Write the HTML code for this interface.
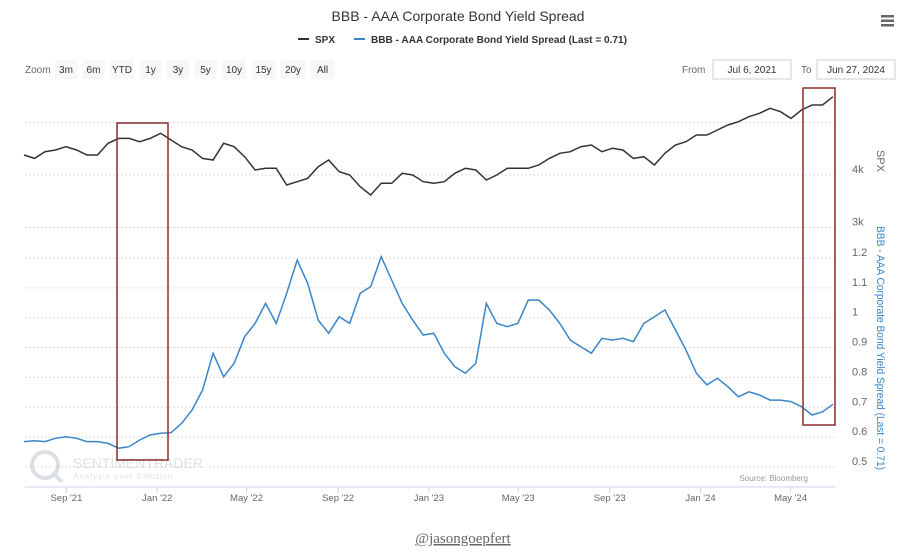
<!DOCTYPE html>
<html><head><meta charset="utf-8"><style>
body{margin:0;background:#fff;width:916px;height:555px;overflow:hidden;font-family:"Liberation Sans",sans-serif;}
svg{display:block}
</style></head><body>
<svg id="chart" width="916" height="555" font-family="Liberation Sans, sans-serif">
<text x="458" y="21" text-anchor="middle" font-size="14" fill="#333">BBB - AAA Corporate Bond Yield Spread</text>
<g fill="#666"><rect x="881" y="15" width="13" height="2.5"/><rect x="881" y="19.5" width="13" height="2.5"/><rect x="881" y="24" width="13" height="2.5"/></g>
<g><line x1="298" y1="39" x2="309" y2="39" stroke="#333" stroke-width="2"/><text x="315" y="43" font-size="10" font-weight="bold" fill="#333">SPX</text></g>
<g><line x1="354" y1="39" x2="365" y2="39" stroke="#3a85c8" stroke-width="2"/><text x="371" y="43" font-size="10" font-weight="bold" fill="#333" textLength="256" lengthAdjust="spacingAndGlyphs">BBB - AAA Corporate Bond Yield Spread (Last = 0.71)</text></g>
<text x="25" y="73" font-size="10" fill="#666">Zoom</text>
<g id="zoombtns"></g>
<text x="682" y="73" font-size="10" fill="#666">From</text>
<g><rect x="713" y="60" width="78" height="19" fill="#fff" stroke="#ccc"/><text x="752" y="73" text-anchor="middle" font-size="10" fill="#333">Jul 6, 2021</text></g>
<text x="801" y="73" font-size="10" fill="#666">To</text>
<g><rect x="817" y="60" width="78" height="19" fill="#fff" stroke="#ccc"/><text x="856" y="73" text-anchor="middle" font-size="10" fill="#333">Jun 27, 2024</text></g>
<g id="grid"></g>
<g opacity="0.25"><circle cx="45" cy="465" r="13" fill="none" stroke="#789" stroke-width="4"/><line x1="54" y1="474" x2="62" y2="482" stroke="#789" stroke-width="4"/><text x="73" y="468" font-size="14" fill="#789">SENTIMENTRADER</text><text x="73" y="479" font-size="8" fill="#789" letter-spacing="1">Analysis over Emotion</text></g>
<text x="808" y="481" text-anchor="end" font-size="8" fill="#999">Source: Bloomberg</text>
<line x1="25" y1="487" x2="835" y2="487" stroke="#ccd6eb"/>
<g id="xaxis"></g><g id="yaxes"></g>
<path id="spxLine" fill="none" stroke="#333" stroke-width="1.5"/>
<path id="spreadLine" fill="none" stroke="#3a85c8" stroke-width="1.5"/>
<rect x="117" y="123" width="51" height="337" fill="none" stroke="#8b2c2c" stroke-width="1.5"/>
<rect x="803" y="88" width="32" height="337" fill="none" stroke="#8b2c2c" stroke-width="1.5"/>
<text x="877" y="150" transform="rotate(90 877 150)" font-size="11" fill="#666">SPX</text>
<text x="877" y="226" transform="rotate(90 877 226)" font-size="11" fill="#3a85c8" textLength="244" lengthAdjust="spacingAndGlyphs">BBB - AAA Corporate Bond Yield Spread (Last = 0.71)</text>
<text x="463" y="543" text-anchor="middle" font-family="Liberation Serif, serif" font-size="15" fill="#666" text-decoration="underline">@jasongoepfert</text>
</svg>
<script>
const zoomLabels=["3m","6m","YTD","1y","3y","5y","10y","15y","20y","All"];
const xTickLabels=["Sep '21","Jan '22","May '22","Sep '22","Jan '23","May '23","Sep '23","Jan '24","May '24"];
const xTickDays=[57,179,299,422,544,664,787,909,1030];
const spxTicks=[3000,4000,5000];
const spreadTicks=[0.5,0.6,0.7,0.8,0.9,1,1.1,1.2];
const spxValues=[4381,4317,4444,4476,4540,4476,4381,4381,4603,4698,4698,4635,4698,4794,4667,4540,4476,4317,4286,4603,4540,4349,4095,4127,4127,3810,3873,3937,4159,4286,4063,4000,3778,3619,3841,3841,4032,4000,3873,3841,3873,4032,4127,4095,3905,4000,4127,4127,4127,4190,4317,4413,4444,4540,4571,4444,4508,4476,4317,4349,4190,4413,4571,4635,4762,4762,4857,4952,5016,5111,5175,5270,5206,5079,5238,5333,5333,5492];
const spreadValues=[0.585,0.588,0.585,0.596,0.601,0.596,0.585,0.585,0.579,0.563,0.568,0.590,0.607,0.613,0.615,0.646,0.691,0.758,0.881,0.802,0.847,0.936,0.981,1.048,0.981,1.082,1.193,1.115,0.992,0.948,1.003,0.981,1.082,1.104,1.204,1.126,1.048,0.992,0.942,0.948,0.881,0.836,0.814,0.847,1.048,0.981,0.970,0.981,1.059,1.059,1.026,0.981,0.925,0.903,0.881,0.931,0.925,0.931,0.920,0.981,1.003,1.026,0.959,0.892,0.814,0.775,0.797,0.769,0.735,0.752,0.741,0.724,0.724,0.719,0.702,0.674,0.685,0.710];
const NS="http://www.w3.org/2000/svg";
const totalDays=1087;
const xDay=d=>24+d*(809/totalDays);
const xIdx=(i,n)=>24+i*(809/(n-1));
const ySpx=v=>175-(v-4000)*0.0525;
const ySpread=v=>467-(v-0.5)*298.6;
function mk(tag,attrs,parent,text){const e=document.createElementNS(NS,tag);for(const k in attrs)e.setAttribute(k,attrs[k]);if(text!==undefined)e.textContent=text;parent.appendChild(e);return e;}
const zb=document.getElementById('zoombtns');
let zx=55;
zoomLabels.forEach(l=>{const w=l.length>2?24:22;const g=mk('g',{},zb);


mk('rect',{x:zx,y:60,width:w,height:19,fill:'#f7f7f7',rx:2},g);mk('text',{x:zx+w/2,y:73,'text-anchor':'middle','font-size':10,fill:'#333'},g,l);zx+=w+5.5;});
const grid=document.getElementById('grid');
spxTicks.forEach(t=>{const l=mk('line',{x1:25,x2:835,y1:ySpx(t),y2:ySpx(t),stroke:'#ddd','stroke-dasharray':'2,2'},grid);

});
spreadTicks.forEach(t=>{const l=mk('line',{x1:25,x2:835,y1:ySpread(t),y2:ySpread(t),stroke:'#ddd','stroke-dasharray':'2,2'},grid);

});
const ya=document.getElementById('yaxes');
spxTicks.forEach(t=>{if(t>4500)return;const e=mk('text',{x:852,y:ySpx(t)-2,'font-size':11,fill:'#666'},ya,(t/1000)+'k');

});
spreadTicks.forEach(t=>{const e=mk('text',{x:852,y:ySpread(t)-2,'font-size':11,fill:'#666'},ya,String(t));

});
const xa=document.getElementById('xaxis');
xTickLabels.forEach((l,i)=>{const x=xDay(xTickDays[i]);const t=mk('line',{x1:x,x2:x,y1:487,y2:493,stroke:'#ccd6eb'},xa);


const e=mk('text',{x:x,y:501,'text-anchor':'middle','font-size':9.5,fill:'#666'},xa,l);

});
document.getElementById('spxLine').setAttribute('d',spxValues.map((v,i)=>(i?'L':'M')+xIdx(i,spxValues.length).toFixed(1)+','+ySpx(v).toFixed(1)).join(''));
document.getElementById('spreadLine').setAttribute('d',spreadValues.map((v,i)=>(i?'L':'M')+xIdx(i,spreadValues.length).toFixed(1)+','+ySpread(v).toFixed(1)).join(''));
</script>
</body></html>
